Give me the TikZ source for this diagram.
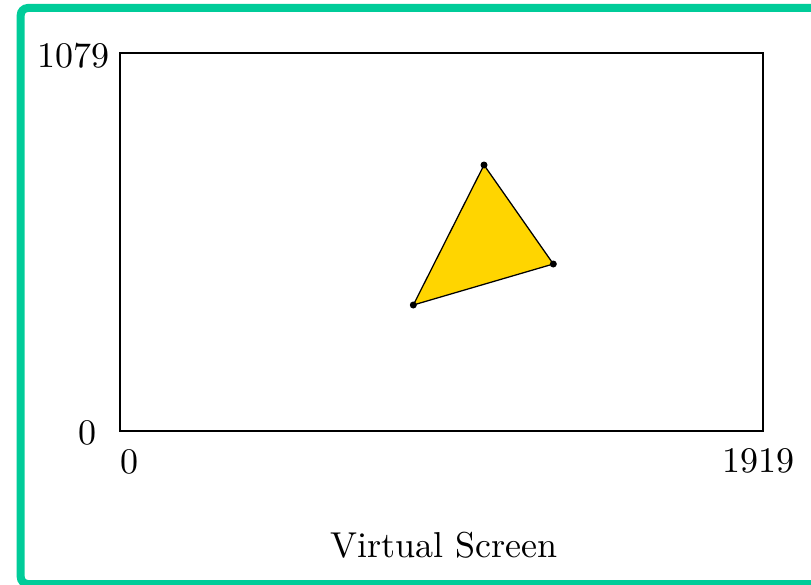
\documentclass[tikz,border=0pt]{standalone}
\definecolor{framegreen}{RGB}{0,204,153}
\definecolor{triyellow}{RGB}{255,213,0}
\begin{document}
\begin{tikzpicture}[x=0.27778pt,y=-0.27778pt,
  lbl/.style={inner sep=0pt,font=\fontsize{10}{12}\selectfont},
  vdot/.style={circle,fill=black,inner sep=0pt,minimum size=7*0.27778pt},
  screen/.style={draw=black,line width=0.4pt},
  tri/.style={draw=black,fill=triyellow,line width=0.35pt,line join=round}]
\useasboundingbox (0,0) rectangle (811,584);
\draw[framegreen,line width=8*0.27778pt,rounded corners=2pt] (20.7,8) rectangle (830,584);
\draw[screen] (120,53) rectangle (763,431);
\coordinate (a) at (413.3,305);
\coordinate (b) at (553.3,264);
\coordinate (c) at (484,165);
\draw[tri] (a) -- (b) -- (c) -- cycle;
\node[vdot] (da) at (a) {};
\node[vdot] (db) at (b) {};
\node[vdot] (dc) at (c) {};
\node[lbl] (ymax) at (73,56) {1079};
\node[lbl] (ymin) at (87.5,433) {0};
\node[lbl] (xmin) at (129,462) {0};
\node[lbl] (xmax) at (758.5,461) {1919};
\node[lbl,anchor=base] (title) at (444,557) {Virtual Screen};
\end{tikzpicture}
\end{document}
